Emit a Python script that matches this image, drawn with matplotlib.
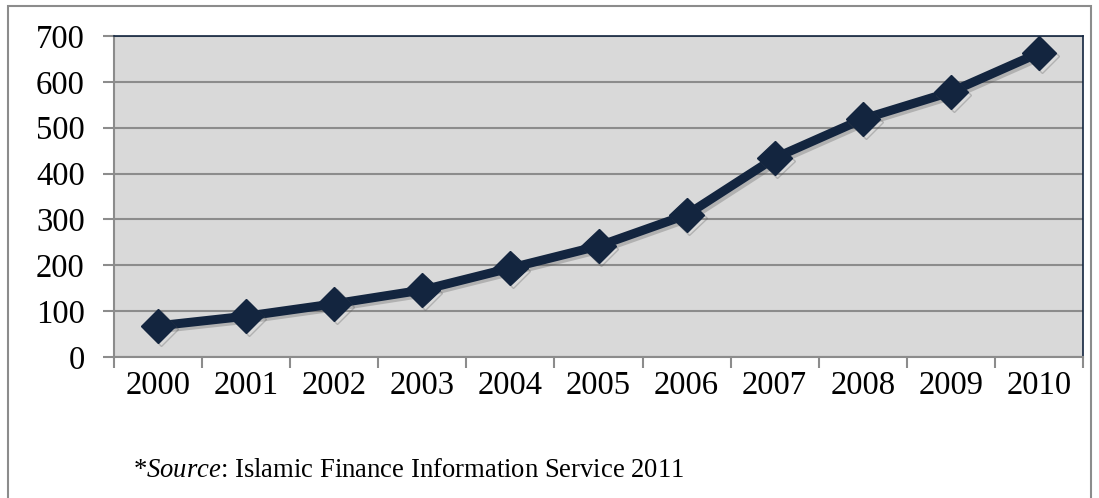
import matplotlib.pyplot as plt
import matplotlib.patheffects as pe
from matplotlib.patches import Rectangle

years = ["2000", "2001", "2002", "2003", "2004", "2005",
         "2006", "2007", "2008", "2009", "2010"]
values = [68, 89, 116, 146, 194, 242, 310, 434, 519, 578, 663]
y_ticks = [0, 100, 200, 300, 400, 500, 600, 700]

navy = "#13253f"
grid_grey = "#8c8c8c"

plt.rcParams["font.family"] = ["Liberation Serif", "DejaVu Serif"]
plt.rcParams["mathtext.fontset"] = "custom"
plt.rcParams["mathtext.rm"] = "Liberation Serif"
plt.rcParams["mathtext.it"] = "Liberation Serif:italic"

fig = plt.figure(figsize=(10.99, 4.98), dpi=100)
# outer frame around the whole chart
fig.patches.append(Rectangle((8 / 1099, -0.01), 1083 / 1099, 1 - 6 / 498 + 0.01,
                             transform=fig.transFigure, fill=False,
                             edgecolor="#8c8c8c", linewidth=1.5))

ax = fig.add_axes([114 / 1099, 1 - 357 / 498, 969 / 1099, 321 / 498])
ax.set_facecolor("#d9d9d9")

x = list(range(len(years)))
ax.plot(x, values, color=navy, linewidth=6.5, marker="D", markersize=17.5,
        solid_joinstyle="miter", zorder=3,
        path_effects=[pe.SimpleLineShadow(offset=(2, -2), shadow_color="#555555", alpha=0.3),
                      pe.Normal()])

ax.set_xlim(-0.5, len(years) - 0.5)
ax.set_ylim(0, 700)
ax.set_yticks(y_ticks)
ax.set_yticklabels([str(v) for v in y_ticks], fontsize=23.5)
ax.yaxis.grid(True, color=grid_grey, linewidth=1.5)
ax.set_axisbelow(True)

# category labels centered, tick marks between categories
ax.set_xticks(x)
ax.set_xticklabels(years, fontsize=23.5)
ax.set_xticks([i - 0.5 for i in range(len(years) + 1)], minor=True)
ax.tick_params(axis="x", which="major", length=0, pad=10)
ax.tick_params(axis="x", which="minor", length=8, width=1.5, color=grid_grey)
ax.tick_params(axis="y", length=8, width=1.5, color=grid_grey, pad=13)

for side in ["left", "bottom"]:
    ax.spines[side].set_color(grid_grey)
    ax.spines[side].set_linewidth(1.5)
for side in ["top", "right"]:
    ax.spines[side].set_color(navy)
    ax.spines[side].set_linewidth(1.2)

fig.text(133 / 1099, 1 - 470 / 498, "*$\\it{Source}$: Islamic Finance Information Service 2011",
         fontsize=19.2, va="center", ha="left")

fig.savefig("out.png", dpi=100)
